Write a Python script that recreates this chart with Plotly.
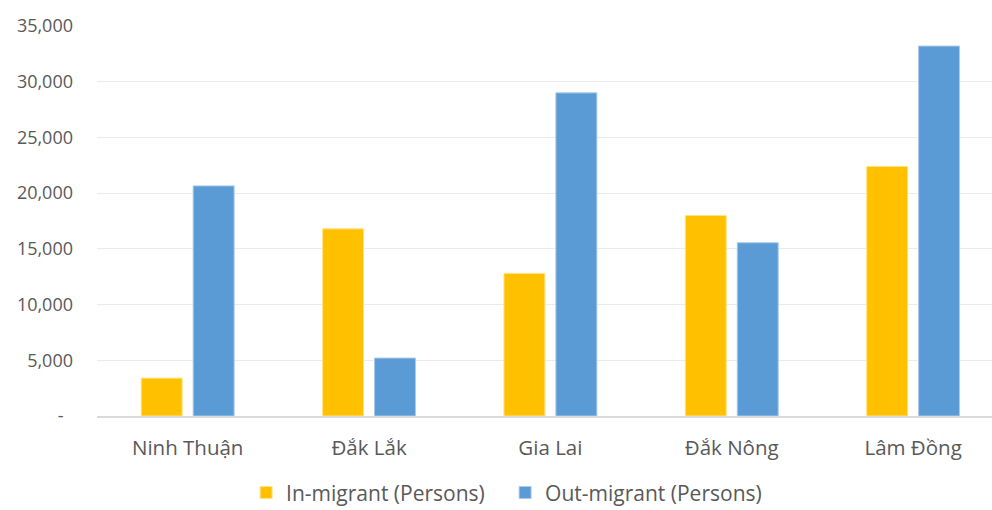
import plotly.graph_objects as go

provinces = ["Ninh Thuận", "Đắk Lắk", "Gia Lai", "Đắk Nông", "Lâm Đồng"]
in_migrants = [3400, 16800, 12800, 18000, 22400]
out_migrants = [20650, 5200, 29000, 15550, 33200]
y_ticks = [0, 5000, 10000, 15000, 20000, 25000, 30000, 35000]
y_tick_labels = ["-\u00a0\u00a0", "5,000", "10,000", "15,000", "20,000", "25,000", "30,000", "35,000"]

FONT = "Open Sans"
TEXT_COLOR = "#595959"

fig = go.Figure()
fig.add_trace(go.Bar(
    x=provinces, y=in_migrants, name="In-migrant (Persons)",
    marker=dict(color="#FFC000", line=dict(color="#FFE48A", width=1)),
))
fig.add_trace(go.Bar(
    x=provinces, y=out_migrants, name="Out-migrant (Persons)",
    marker=dict(color="#5B9BD5", line=dict(color="#A9CBEA", width=1)),
))

fig.update_layout(
    width=992, height=510,
    margin=dict(l=97, r=0, t=26, b=94, autoexpand=False),
    paper_bgcolor="white", plot_bgcolor="white",
    barmode="group", bargap=0.427, bargroupgap=0.2115,
    font=dict(family=FONT, size=18, color=TEXT_COLOR),
    legend=dict(
        orientation="h", x=0.456, xanchor="center", y=-0.197, yanchor="middle",
        font=dict(family=FONT, size=21, color=TEXT_COLOR),
        itemwidth=30, traceorder="normal", entrywidth=214,
    ),
    showlegend=True,
)
fig.update_xaxes(
    range=[-0.5, 4.435], showgrid=False, ticks="",
    showline=True, linecolor="#D9D9D9", linewidth=2,
    ticklabelstandoff=12,
    tickfont=dict(family=FONT, size=20.5, color=TEXT_COLOR),
)
fig.update_yaxes(
    range=[0, 35000], tickvals=y_ticks, ticktext=y_tick_labels,
    showgrid=True, gridcolor="#EBEBEB", gridwidth=1, zeroline=False,
    ticks="", ticklabelstandoff=23,
    tickfont=dict(family=FONT, size=18, color=TEXT_COLOR),
)

fig.write_html("out.html")
